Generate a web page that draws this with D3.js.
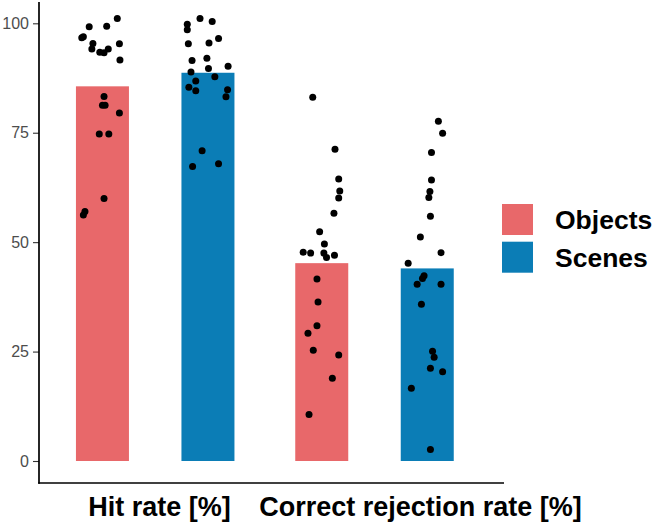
<!DOCTYPE html>
<html>
<head>
<meta charset="utf-8">
<script src="https://cdn.jsdelivr.net/npm/d3@7"></script>
<style>
  html, body { margin: 0; padding: 0; background: #fff; }
  svg { display: block; }
</style>
</head>
<body>
<div id="chart"></div>
<script>
// ---- data ----
const categories = ["Hit rate [%]", "Correct rejection rate [%]"];
const series = ["Objects", "Scenes"];
const colors = ["#E8686A", "#0B7DB6"];
const barMeans = [
  [85.6, 88.7],   // Hit rate: Objects, Scenes
  [45.2, 44.0]    // Correct rejection rate: Objects, Scenes
];
const yTicks = [0, 25, 50, 75, 100];

// individual participant values (per category, per series)
const hitObjects = [101.1, 99.2, 99.3, 96.9, 96.7, 95.4, 94.1, 95.3, 93.4, 93.3, 94.1, 91.6, 83.3, 81.3, 81.3, 79.5, 74.7, 74.7, 60.0, 57.0, 56.2];
const hitObjectsJitter = [0.28, -0.25, 0.08, -0.36, -0.39, -0.18, -0.20, 0.32, -0.05, 0.03, 0.11, 0.33, 0.03, 0.00, 0.05, 0.32, -0.06, 0.12, 0.03, -0.33, -0.36];
const hitScenes = [101.1, 100.4, 99.8, 98.5, 95.3, 95.5, 96.5, 91.5, 92.0, 89.7, 90.2, 88.9, 87.8, 86.8, 85.4, 84.6, 84.8, 83.2, 70.9, 67.3, 67.9];
const hitScenesJitter = [-0.15, 0.08, -0.39, -0.39, -0.37, 0.02, 0.20, -0.30, -0.02, 0.01, 0.38, -0.32, 0.13, -0.23, -0.36, -0.23, 0.37, 0.34, -0.11, -0.29, 0.20];
const crObjects = [83.1, 71.2, 64.4, 61.7, 60.1, 56.6, 52.4, 49.6, 47.7, 47.5, 47.5, 46.5, 47.0, 41.6, 36.3, 30.9, 29.2, 25.3, 24.2, 18.9, 10.6];
const crObjectsJitter = [-0.17, 0.25, 0.32, 0.34, 0.32, 0.23, -0.04, 0.05, -0.35, -0.21, 0.04, 0.09, 0.24, -0.09, -0.07, -0.09, -0.26, -0.16, 0.32, 0.20, -0.24];
const crScenes = [77.6, 74.9, 70.5, 64.2, 61.6, 60.2, 55.9, 51.2, 47.6, 45.2, 42.3, 41.7, 40.4, 40.4, 35.8, 25.1, 23.7, 21.2, 20.4, 16.6, 2.6];
const crScenesJitter = [0.21, 0.29, 0.08, 0.08, 0.05, 0.03, 0.06, -0.13, 0.26, -0.36, -0.06, -0.09, -0.19, 0.26, -0.11, 0.10, 0.13, 0.06, 0.29, -0.30, 0.06];

const pointSets = [
  { cat: 0, ser: 0, values: hitObjects, jitter: hitObjectsJitter },
  { cat: 0, ser: 1, values: hitScenes, jitter: hitScenesJitter },
  { cat: 1, ser: 0, values: crObjects, jitter: crObjectsJitter },
  { cat: 1, ser: 1, values: crScenes, jitter: crScenesJitter }
];

// ---- layout ----
const W = 656, H = 526;
const axisX = 39, axisRight = 504, axisTop = 2, axisBottom = 483;

const svg = d3.select("#chart").append("svg")
  .attr("width", W).attr("height", H)
  .style("font-family", "'Liberation Sans', Arial, Helvetica, sans-serif");

const y = d3.scaleLinear().domain([0, 100]).range([461, 23.3]);
const xGroup = d3.scalePoint().domain(categories).range([155.2, 374.5]);
const xSub = d3.scalePoint().domain(series).range([-52.75, 52.75]);
const barW = 53;

// bars
const barData = [];
categories.forEach((c, i) => series.forEach((s, j) => barData.push({ c, s, j, v: barMeans[i][j] })));
svg.append("g").selectAll("rect").data(barData).join("rect")
  .attr("x", d => xGroup(d.c) + xSub(d.s) - barW / 2)
  .attr("width", barW)
  .attr("y", d => y(d.v))
  .attr("height", d => y(0) - y(d.v))
  .attr("fill", d => colors[d.j]);

// points
const pts = [];
pointSets.forEach(ps => ps.values.forEach((v, k) => pts.push({
  c: categories[ps.cat], s: series[ps.ser], v, jt: ps.jitter[k]
})));
svg.append("g").selectAll("circle").data(pts).join("circle")
  .attr("cx", d => xGroup(d.c) + xSub(d.s) + d.jt * barW)
  .attr("cy", d => y(d.v))
  .attr("r", 3.5)
  .attr("fill", "#000");

// y axis
const yAxis = d3.axisLeft(y).tickValues(yTicks).tickSize(6).tickPadding(4);
const gy = svg.append("g").attr("transform", `translate(${axisX},0)`).call(yAxis);
gy.select(".domain").remove();
gy.selectAll(".tick line").attr("stroke", "#333").attr("stroke-width", 1.1);
gy.selectAll(".tick text")
  .attr("fill", "#4D4D4D")
  .style("font-size", "16px")
  .style("font-family", "'Liberation Sans', Arial, sans-serif");

// axis lines
svg.append("line").attr("x1", axisX).attr("x2", axisX).attr("y1", axisTop).attr("y2", axisBottom + 0.8)
  .attr("stroke", "#000").attr("stroke-width", 1.7);
svg.append("line").attr("x1", axisX - 0.8).attr("x2", axisRight).attr("y1", axisBottom).attr("y2", axisBottom)
  .attr("stroke", "#000").attr("stroke-width", 1.7);

// x category labels
const labelShift = [4.4, 46];
svg.append("g").selectAll("text").data(categories).join("text")
  .attr("x", (d, i) => xGroup(d) + labelShift[i])
  .attr("y", 516)
  .attr("text-anchor", "middle")
  .style("font-size", "27px")
  .style("font-weight", "bold")
  .attr("fill", "#000")
  .text(d => d);

// legend
const lg = svg.append("g").attr("transform", "translate(502,204)");
series.forEach((s, i) => {
  const row = lg.append("g").attr("transform", `translate(0,${i * 37.7})`);
  row.append("rect").attr("width", 31).attr("height", 31).attr("fill", colors[i]);
  row.append("text").attr("x", 53).attr("y", 25.3)
    .style("font-size", "26.5px").style("font-weight", "bold").attr("fill", "#000")
    .text(s);
});
</script>
</body>
</html>
